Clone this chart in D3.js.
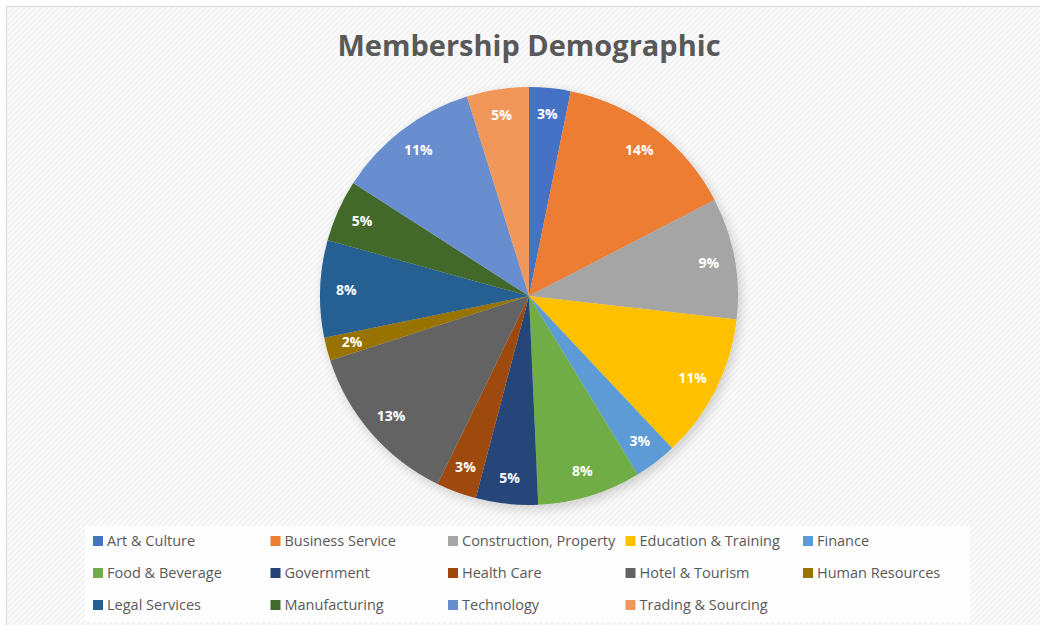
<!DOCTYPE html>
<html>
<head>
<meta charset="utf-8">
<script src="https://cdn.jsdelivr.net/npm/d3@7"></script>
<style>
  body { margin: 0; background: #fff; }
  svg { display: block; }
</style>
</head>
<body>
<script>
// data (percent shares)
var categories = ["Art & Culture", "Business Service", "Construction, Property", "Education & Training",
  "Finance", "Food & Beverage", "Government", "Health Care", "Hotel & Tourism", "Human Resources",
  "Legal Services", "Manufacturing", "Technology", "Trading & Sourcing"];
var shares = [3.2, 14.2, 9.4, 11.2, 3.3, 8.0, 4.8, 3.1, 12.8, 1.8, 7.5, 4.8, 11.1, 4.8];
var palette = ["#4472c4", "#ed7d31", "#a5a5a5", "#ffc000", "#5b9bd5", "#70ad47", "#264478",
  "#9e480e", "#636363", "#997300", "#255e91", "#43682b", "#698ed0", "#f1975a"];

var width = 1040,
  height = 625;

var svg = d3.select('body')
  .append('svg')
  .attr('width', width)
  .attr('height', height);

var defs = svg.append('defs');

// diagonal hatch background
var pat = defs.append('pattern')
  .attr('id', 'hatch')
  .attr('width', 4)
  .attr('height', 4)
  .attr('patternUnits', 'userSpaceOnUse')
  .attr('patternTransform', 'rotate(45)');
pat.append('rect').attr('width', 4).attr('height', 4).attr('fill', '#f3f3f3');
pat.append('rect').attr('width', 2).attr('height', 4).attr('fill', '#fbfbfb');

var shadow = defs.append('filter')
  .attr('id', 'glow')
  .attr('x', '-20%').attr('y', '-20%')
  .attr('width', '140%').attr('height', '140%');
shadow.append('feGaussianBlur').attr('in', 'SourceAlpha').attr('stdDeviation', 6).attr('result', 'b');
shadow.append('feOffset').attr('in', 'b').attr('dx', 3).attr('dy', 4).attr('result', 'o');
shadow.append('feComponentTransfer').attr('in', 'o').attr('result', 's')
  .append('feFuncA').attr('type', 'linear').attr('slope', 0.18);
var merge = shadow.append('feMerge');
merge.append('feMergeNode').attr('in', 's');
merge.append('feMergeNode').attr('in', 'SourceGraphic');

svg.append('rect')
  .attr('x', 6.5).attr('y', 6.5)
  .attr('width', width).attr('height', height)
  .attr('fill', 'url(#hatch)')
  .attr('stroke', '#d9d9d9');

//Title
svg.append('text')
  .attr('x', 529)
  .attr('y', 56)
  .attr('text-anchor', 'middle')
  .style('font-family', '"Open Sans", sans-serif')
  .style('font-weight', 'bold')
  .style('font-size', '29px')
  .style('fill', '#595959')
  .text('Membership Demographic');

//Pie
var cx = 529, cy = 296, radius = 209;

var pie = d3.pie().sort(null).value(function(d) { return d; });
var arcs = pie(shares);
var arc = d3.arc().innerRadius(0).outerRadius(radius);
var labelArc = d3.arc().innerRadius(radius * 0.875).outerRadius(radius * 0.875);

var g = svg.append('g')
  .attr('transform', `translate(${cx},${cy})`);

g.append('g')
  .attr('filter', 'url(#glow)')
  .selectAll('path')
  .data(arcs)
  .enter()
  .append('path')
  .attr('d', arc)
  .attr('fill', function(d, i) { return palette[i]; });

g.selectAll('text')
  .data(arcs)
  .enter()
  .append('text')
  .attr('transform', function(d) { return `translate(${labelArc.centroid(d)})`; })
  .attr('text-anchor', 'middle')
  .attr('dy', '0.35em')
  .style('font-family', '"Open Sans", sans-serif')
  .style('font-weight', 'bold')
  .style('font-size', '14px')
  .style('fill', '#fff')
  .text(function(d) { return Math.round(d.data) + '%'; });

//Legend
svg.append('rect')
  .attr('x', 85).attr('y', 526)
  .attr('width', 885).attr('height', 96)
  .attr('fill', '#fdfdfd');

var cols = 5;
var colX = d3.scaleLinear().domain([0, 1]).range([93, 270.5]);
var rowY = d3.scaleLinear().domain([0, 1]).range([541, 573]);

var item = svg.selectAll('.legend')
  .data(categories)
  .enter()
  .append('g')
  .attr('class', 'legend')
  .attr('transform', function(d, i) {
    return `translate(${colX(i % cols)},${rowY(Math.floor(i / cols))})`;
  });

item.append('rect')
  .attr('x', 0).attr('y', -5)
  .attr('width', 10).attr('height', 10)
  .attr('fill', function(d, i) { return palette[i]; });

item.append('text')
  .attr('x', 14)
  .attr('dy', '0.35em')
  .style('font-family', '"Open Sans", sans-serif')
  .style('font-size', '14.5px')
  .style('fill', '#595959')
  .text(function(d) { return d; });
</script>
</body>
</html>
